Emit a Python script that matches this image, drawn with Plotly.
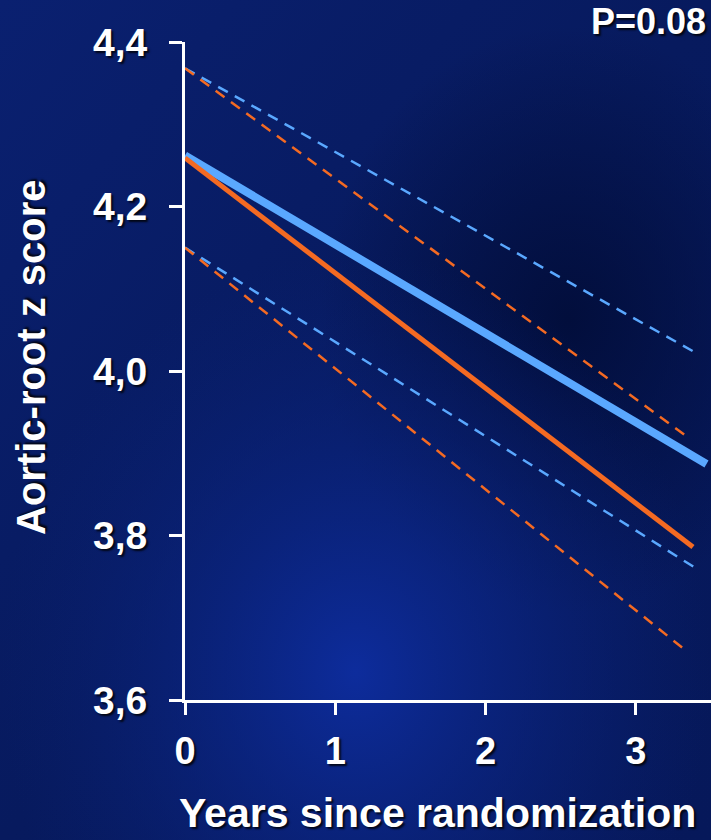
import plotly.graph_objects as go
import base64

# Data
blue_x = [0, 3.47]
blue_mean = [4.262, 3.887]
blue_upper_x = [0, 3.41]
blue_upper = [4.368, 4.021]
blue_lower_x = [0, 3.41]
blue_lower = [4.150, 3.759]
orange_x = [0, 3.38]
orange_mean = [4.259, 3.786]
orange_upper_x = [0, 3.35]
orange_upper = [4.368, 3.919]
orange_lower_x = [0, 3.34]
orange_lower = [4.150, 3.659]

x_ticks = [0, 1, 2, 3]
y_ticks = [3.6, 3.8, 4.0, 4.2, 4.4]
y_ticklabels = ["3,6", "3,8", "4,0", "4,2", "4,4"]

BLUE = "#5aa8ff"
ORANGE = "#f46a22"

svg = """<svg xmlns='http://www.w3.org/2000/svg' width='711' height='840'>
<defs>
<radialGradient id='g1' cx='0.5' cy='0.8' r='0.5'>
<stop offset='0' stop-color='#0d2c9c'/>
<stop offset='1' stop-color='#0a2278' stop-opacity='0'/>
</radialGradient>
<radialGradient id='g2' cx='0.8' cy='0.38' r='0.35'>
<stop offset='0' stop-color='#020e3c'/>
<stop offset='1' stop-color='#020e3c' stop-opacity='0'/>
</radialGradient>
<linearGradient id='g0' x1='0' y1='0' x2='1' y2='1'>
<stop offset='0' stop-color='#0a2070'/>
<stop offset='0.5' stop-color='#071a5e'/>
<stop offset='1' stop-color='#06185a'/>
</linearGradient>
</defs>
<rect width='711' height='840' fill='url(#g0)'/>
<rect width='711' height='840' fill='url(#g2)'/>
<rect width='711' height='840' fill='url(#g1)'/>
</svg>"""
src = "data:image/svg+xml;base64," + base64.b64encode(svg.encode()).decode()

fig = go.Figure()

def add(x, y, color, width, dash):
    fig.add_trace(go.Scatter(x=x, y=y, mode="lines",
                             line=dict(color=color, width=width, dash=dash),
                             showlegend=False, hoverinfo="skip"))

add(blue_upper_x, blue_upper, BLUE, 2.5, "11px,8px")
add(blue_lower_x, blue_lower, BLUE, 2.5, "11px,8px")
add(orange_upper_x, orange_upper, ORANGE, 2.5, "11px,8px")
add(orange_lower_x, orange_lower, ORANGE, 2.5, "11px,8px")
add(blue_x, blue_mean, BLUE, 8, "solid")
add(orange_x, orange_mean, ORANGE, 5, "solid")

font = "Liberation Sans, Arial, sans-serif"
shadow = "2px 2px 2px rgba(0,0,0,0.8)"

PL, PT, PW, PH = 185, 42, 526, 658

fig.update_layout(
    width=711, height=840,
    margin=dict(l=PL, r=0, t=PT, b=840 - PT - PH),
    paper_bgcolor="#081d66",
    plot_bgcolor="rgba(0,0,0,0)",
    images=[dict(source=src, xref="paper", yref="paper",
                 x=-PL/PW, y=1 + PT/PH, sizex=711/PW, sizey=840/PH,
                 xanchor="left", yanchor="top", sizing="stretch", layer="below")],
    xaxis=dict(range=[0, 3.5], tickvals=x_ticks, ticktext=[str(v) for v in x_ticks],
               showgrid=False, zeroline=False, showline=True, linecolor="white",
               linewidth=3, ticks="outside", tickcolor="white", tickwidth=3, ticklen=12,
               ticklabelstandoff=3,
               tickfont=dict(family=font, size=38, color="white", weight="bold", shadow=shadow)),
    yaxis=dict(range=[3.6, 4.4], tickvals=y_ticks, ticktext=y_ticklabels,
               showgrid=False, zeroline=False, showline=True, linecolor="white",
               linewidth=3, ticks="outside", tickcolor="white", tickwidth=3, ticklen=13,
               ticklabelstandoff=14,
               tickfont=dict(family=font, size=39, color="white", weight="bold", shadow=shadow)),
    annotations=[
        dict(text="Years since randomization", xref="paper", yref="paper",
             x=(437-PL)/PW, y=-(813-(PT+PH))/PH, xanchor="center", yanchor="middle",
             showarrow=False,
             font=dict(family=font, size=41, color="white", weight="bold", shadow=shadow)),
        dict(text="Aortic-root z score", xref="paper", yref="paper",
             x=(31-PL)/PW, y=(PT+PH-357)/PH, xanchor="center", yanchor="middle",
             textangle=-90, showarrow=False,
             font=dict(family=font, size=40, color="white", weight="bold", shadow=shadow)),
        dict(text="P=0.08", xref="paper", yref="paper",
             x=(708-PL)/PW, y=(PT+PH-21)/PH, xanchor="right", yanchor="middle",
             showarrow=False,
             font=dict(family=font, size=36, color="white", weight="bold", shadow=shadow)),
    ],
)

fig.write_html("out.html", config={"displayModeBar": False},
               post_script="document.body.style.margin='0';document.body.style.overflow='hidden';")
